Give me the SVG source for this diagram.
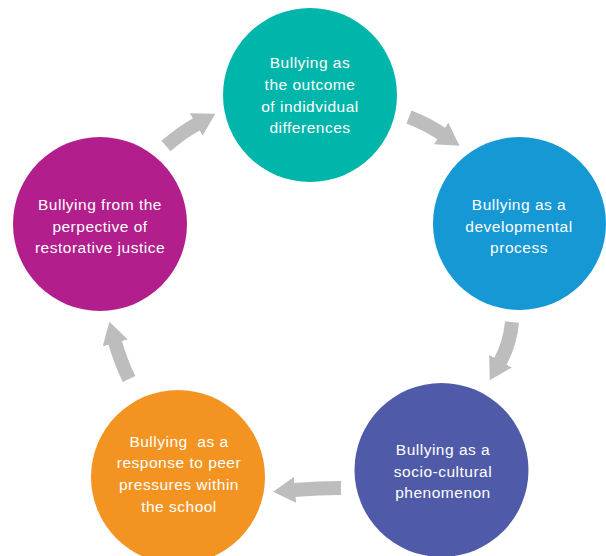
<svg xmlns="http://www.w3.org/2000/svg" width="606" height="556" viewBox="0 0 606 556">
<style>
.lbl{font-family:"Liberation Sans",Arial,sans-serif;font-size:15.5px;letter-spacing:0.5px;fill:#ffffff;text-anchor:middle}
.arr{fill:none;stroke:#BDBDBD;stroke-width:14;marker-end:url(#head)}
</style>
<defs>
<marker id="head" markerUnits="userSpaceOnUse" orient="auto" markerWidth="24" markerHeight="30" refX="1" refY="14" viewBox="0 0 24 30">
<path d="M0,1 L22,14 L0,27 z" fill="#BDBDBD"/>
</marker>
</defs>
<rect width="606" height="556" fill="#ffffff"/>
<g id="connectors">
<path class="arr" d="M409 117 Q427 124 442 134"/>
<path class="arr" d="M512 322 Q510 344 500 362"/>
<path class="arr" d="M341 488 Q318 488 294 490"/>
<path class="arr" d="M129 379 Q120 360 115 342"/>
<path class="arr" d="M166 146 Q181 133 197 124"/>
</g>
<g id="node1">
<circle cx="310" cy="95" r="87" fill="#00B5A9"/>
<text class="lbl" x="310" y="68">Bullying as</text>
<text class="lbl" x="310" y="90">the outcome</text>
<text class="lbl" x="310" y="112">of indidvidual</text>
<text class="lbl" x="310" y="133">differences</text>
</g>
<g id="node2">
<circle cx="519.5" cy="223.5" r="86.5" fill="#1598D4"/>
<text class="lbl" x="519" y="210">Bullying as a</text>
<text class="lbl" x="519" y="232">developmental</text>
<text class="lbl" x="519" y="253">process</text>
</g>
<g id="node3">
<circle cx="441.5" cy="470" r="87" fill="#4F5BA8"/>
<text class="lbl" x="443" y="455">Bullying as a</text>
<text class="lbl" x="443" y="477">socio-cultural</text>
<text class="lbl" x="443" y="498">phenomenon</text>
</g>
<g id="node4">
<circle cx="178" cy="477" r="87" fill="#F39422"/>
<text class="lbl" x="179" y="447" xml:space="preserve">Bullying  as a</text>
<text class="lbl" x="179" y="468">response to peer</text>
<text class="lbl" x="179" y="490">pressures within</text>
<text class="lbl" x="179" y="512">the school</text>
</g>
<g id="node5">
<circle cx="100" cy="224" r="87" fill="#B21E8C"/>
<text class="lbl" x="100" y="210">Bullying from the</text>
<text class="lbl" x="100" y="232">perpective of</text>
<text class="lbl" x="100" y="253">restorative justice</text>
</g>
</svg>
